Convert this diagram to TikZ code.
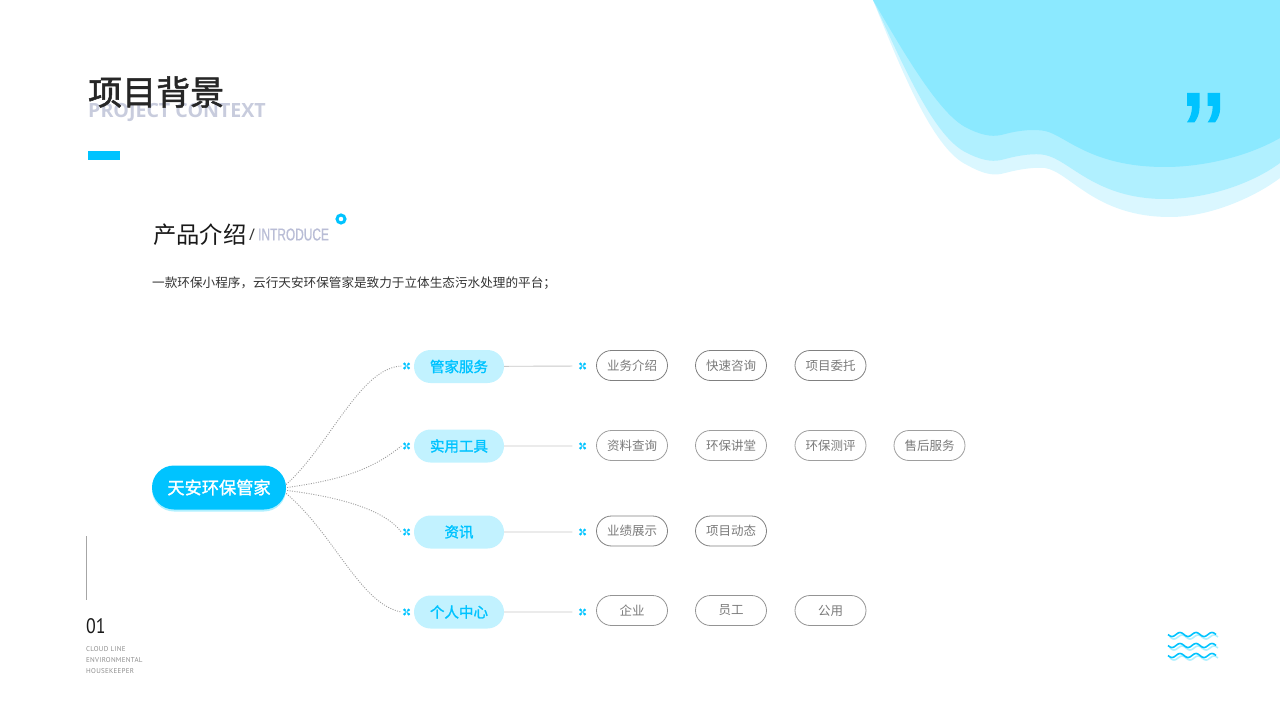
\documentclass[tikz,border=0pt]{standalone}
\usepackage{fontspec}
\setmainfont{Noto Sans CJK SC}
\newfontfamily\cjkmed[FakeBold=1.5]{Noto Sans CJK SC}
\newfontfamily\latn{Open Sans}
\newfontfamily\latnthin[FakeStretch=0.7,FakeBold=0.8]{Liberation Sans}
\newfontfamily\din[FakeStretch=0.85]{PT Sans}
\newfontfamily\dinsmall[LetterSpace=4]{PT Sans}
\usetikzlibrary{shapes.misc}
\definecolor{skyA}{HTML}{00C3FF}
\definecolor{skyB}{HTML}{C2F2FF}
\definecolor{waveA}{HTML}{8BE9FF}
\definecolor{waveB}{HTML}{B0F0FF}
\definecolor{waveC}{HTML}{DAF7FF}
\definecolor{greyA}{HTML}{C8CCDD}
\definecolor{greyB}{HTML}{B9BDD6}

\begin{document}
\begin{tikzpicture}[x=1pt,y=-1pt,
label/.style={inner sep=0,anchor=west},
root/.style={rounded rectangle,fill=skyA,text=white,minimum width=134,minimum height=44,inner sep=0,font=\cjkmed\fontsize{17.2}{20}\selectfont,preaction={fill=waveB,transform canvas={yshift=-2pt}}},
topic/.style={rounded rectangle,fill=skyB,text=skyA,minimum width=90,minimum height=33,inner sep=0,font=\cjkmed\fontsize{14.5}{17}\selectfont},
leaf/.style={rounded rectangle,draw=#1,line width=.8,text=black!52,minimum width=71,minimum height=30,inner sep=0,font=\fontsize{12.5}{15}\selectfont},
leaf/.default=black!50,
petals/.style={minimum size=10,inner sep=0,path picture={
  \foreach \a in {45,135,225,315} \fill[skyA] (path picture bounding box.center) ++(\a:3) circle (1.5);
  \draw[skyA,line width=1] (path picture bounding box.center) ++(-2,-2) -- ++(4,4) ++(-4,0) -- ++(4,-4);
  \fill[white] (path picture bounding box.center) circle (.7);}},
dots/.style={draw=black!38,line width=.9,dash pattern=on 1 off 1.4},
stem/.style={draw=black!22,line width=.9,shorten >=5}]

\useasboundingbox (0,0) rectangle (1280,722);

\fill[waveC] (873,0) .. controls (905,80) and (935,150) .. (967,165) .. controls (985,175) and (995,176) .. (1005,173) .. controls (1020,169) and (1035,167) .. (1045,168) .. controls (1070,172) and (1095,217) .. (1170,217) .. controls (1210,217) and (1255,197) .. (1280,178) -- (1280,0) -- cycle;
\fill[waveB] (873,0) .. controls (905,70) and (935,138) .. (967,153) .. controls (985,162) and (995,162) .. (1005,159) .. controls (1020,155) and (1035,153) .. (1045,155) .. controls (1070,160) and (1095,199) .. (1165,199) .. controls (1205,199) and (1250,185) .. (1280,163) -- (1280,0) -- cycle;
\fill[waveA] (873,0) .. controls (905,55) and (940,115) .. (967,128) .. controls (985,137) and (995,137) .. (1005,134) .. controls (1020,130) and (1035,129) .. (1045,131) .. controls (1065,135) and (1090,167) .. (1165,167) .. controls (1200,167) and (1245,158) .. (1280,138) -- (1280,0) -- cycle;
\foreach \d in {0,20.7}
  \fill[skyA,xshift=\d] (1187,93) -- (1199.5,93) -- (1199.5,108) .. controls (1199.5,114) and (1197,119) .. (1194.5,122.3) -- (1187,122.3) .. controls (1190,118) and (1192,113) .. (1192,106) -- (1187,106) -- cycle;

\node[label,text=greyA,font=\latn\fontsize{19.6}{24}\selectfont\bfseries] (entitle) at (88,112) {PROJECT CONTEXT};
\node[label,text=black!85,font=\cjkmed\fontsize{34}{40}\selectfont] (title) at (88,92) {项目背景};
\fill[skyA] (88,151) rectangle (120,160);

\node[label,text=black!90,font=\fontsize{23.3}{28}\selectfont] (intro) at (153,235) {产品介绍};
\node[label,text=black!80,font=\latn\fontsize{16}{20}\selectfont] (slash) at (249,235) {/};
\node[label,text=greyB,font=\latnthin\fontsize{17}{20}\selectfont] (enintro) at (258,234.5) {INTRODUCE};
\node[circle,draw=skyA,fill=white,line width=3,minimum size=8,inner sep=0] (ring) at (341,219) {};
\node[label,text=black!80,font=\fontsize{12.62}{15}\selectfont] (about) at (152,283) {一款环保小程序，云行天安环保管家是致力于立体生态污水处理的平台；};

\node[root] (R) at (219,487.5) {天安环保管家};

\node[topic] (A) at (459,366.5) {管家服务};
\node[topic] (B) at (459,446) {实用工具};
\node[topic] (C) at (459,532) {资讯};
\node[topic] (D) at (459,612) {个人中心};

\node[petals] (A1) at (406.5,366) {};
\node[petals] (B1) at (406.5,446) {};
\node[petals] (C1) at (406.5,532) {};
\node[petals] (D1) at (406.5,612) {};
\node[petals] (A2) at (582.5,366) {};
\node[petals] (B2) at (582.5,446) {};
\node[petals] (C2) at (582.5,532) {};
\node[petals] (D2) at (582.5,612) {};

\node[leaf] (A3) at (632,365.5) {业务介绍};
\node[leaf] (A4) at (731,365.5) {快速咨询};
\node[leaf] (A5) at (830.5,365.5) {项目委托};
\node[leaf=black!38] (B3) at (632,445.5) {资料查询};
\node[leaf=black!38] (B4) at (731,445.5) {环保讲堂};
\node[leaf=black!38] (B5) at (830.5,445.5) {环保测评};
\node[leaf=black!38] (B6) at (929.5,445.5) {售后服务};
\node[leaf] (C3) at (632,531) {业绩展示};
\node[leaf] (C4) at (731,531) {项目动态};
\node[leaf=black!42] (D3) at (632,610.5) {企业};
\node[leaf=black!42] (D4) at (731,610.5) {员工};
\node[leaf=black!42] (D5) at (830.5,610.5) {公用};

\draw[dots] (R.east) ++(0,-3) .. controls (330,445) and (360,368) .. (A1.west);
\draw[dots] (R.east) ++(1,0) .. controls (340,480) and (372,470) .. (B1.west);
\draw[dots] (R.east) ++(1,3) .. controls (340,497) and (385,510) .. (C1.west);
\draw[dots] (R.east) ++(0,6) .. controls (335,535) and (360,604) .. (D1.west);

\draw[stem] (A) -- (A2);
\draw[stem] (B) -- (B2);
\draw[stem] (C) -- (C2);
\draw[stem] (D) -- (D2);

\draw[black!35,line width=1] (86,536) -- (86,600);
\node[label,text=black!90,font=\din\fontsize{21}{24}\selectfont] (num) at (86,626.5) {01};
\node[label,text=black!45,align=left,font=\dinsmall\fontsize{7}{11}\selectfont] (brand) at (86,660) {CLOUD LINE\\ENVIRONMENTAL\\HOUSEKEEPER};

\foreach \y in {634.5,645.5,655.5} {
  \draw[waveB,line width=1.6] plot[smooth,domain=1170:1218,samples=50] (\x,{\y+2.5+2*sin(22.5*(\x-1170))});
  \draw[skyA,line width=1.6] plot[smooth,domain=1168:1216,samples=50] (\x,{\y+2*sin(22.5*(\x-1168))});
}
\end{tikzpicture}
\end{document}
